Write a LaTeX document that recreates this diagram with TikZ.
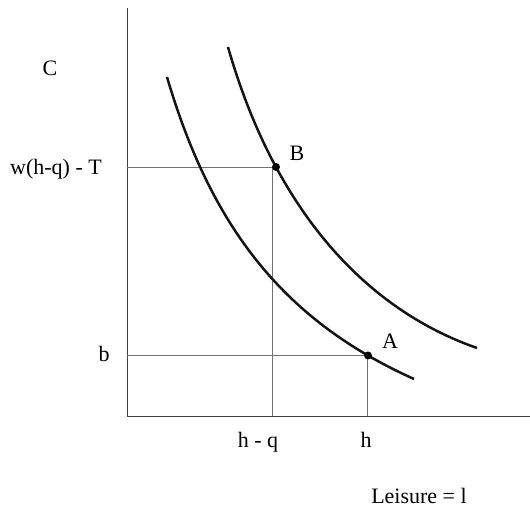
\documentclass[tikz,border=0pt]{standalone}
\usepackage{fontspec}
\setmainfont{Liberation Serif}
\begin{document}
\begin{tikzpicture}[x=1pt,y=1pt,
  axis/.style={draw=black!75, line width=0.9pt},
  guide/.style={draw=black!55, line width=0.7pt},
  curve/.style={draw=black!92, line width=2.5pt},
  lbl/.style={anchor=base, inner sep=0pt, font=\fontsize{22}{24}\selectfont},
  dot/.style={circle, fill=black, inner sep=0pt, minimum size=8pt}]
\useasboundingbox (0,0) rectangle (530,510);
% axes
\coordinate (O) at (127,94);
\coordinate (Ytop) at (127,502);
\coordinate (Xend) at (530,94);
\draw[axis] (Ytop) -- (O) -- (Xend);
% points
\coordinate (B) at (276,343);
\coordinate (A) at (368,154.5);
\coordinate (Byax) at (127,343);
\coordinate (Bvl) at (272,343);
\coordinate (Bxax) at (272,94);
\coordinate (Ayax) at (127,154.5);
\coordinate (Avl) at (367,154.5);
\coordinate (Axax) at (367,94);
\draw[guide] (Byax) -- (B);
\draw[guide] (Bvl) -- (Bxax);
\draw[guide] (Ayax) -- (A);
\draw[guide] (Avl) -- (Axax);
% indifference curves
\coordinate (L0) at (167,433);
\coordinate (L1) at (414,131);
\coordinate (U0) at (228,463);
\coordinate (U1) at (477,162);
\draw[curve] (L0) .. controls (212.3,279) and (286.4,188.4) .. (L1);
\draw[curve] (U0) .. controls (275.6,296.4) and (368.4,199.8) .. (U1);
\node[dot] (Bdot) at (B) {};
\node[dot] (Adot) at (A) {};
% labels
\node[lbl] (lC) at (50,434) {C};
\node[lbl] (lw) at (56,335) {w(h-q) - T};
\node[lbl] (lb) at (104,148) {b};
\node[lbl] (lhq) at (258,62) {h - q};
\node[lbl] (lh) at (366,62) {h};
\node[lbl] (lB) at (297,349) {B};
\node[lbl] (lA) at (390,161) {A};
\node[lbl] (lL) at (419,6) {Leisure = l};
\end{tikzpicture}
\end{document}
